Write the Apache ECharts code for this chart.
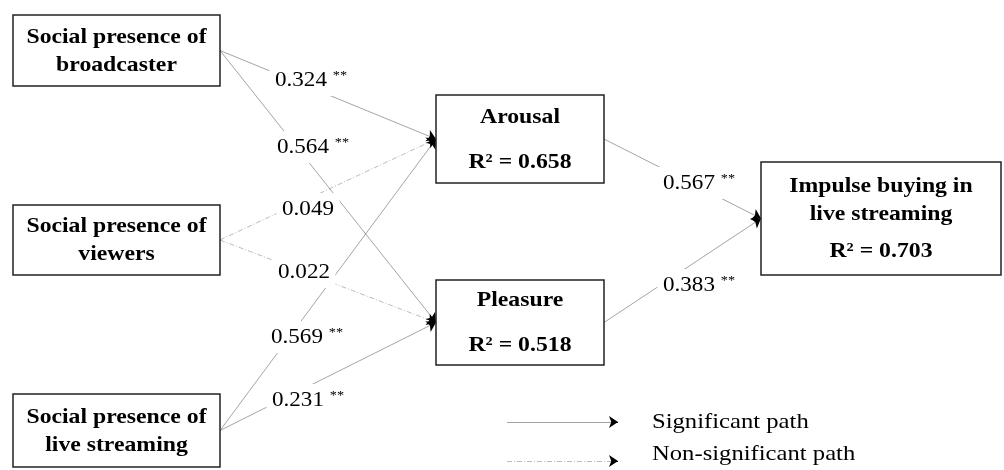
<!DOCTYPE html>
<html><head><meta charset="utf-8">
<script src="https://cdn.jsdelivr.net/npm/echarts@6/dist/echarts.min.js"></script>
<style>html,body{margin:0;padding:0;background:#fff}#c{width:1004px;height:470px}</style>
</head><body><div id="c"></div>
<script>
// ---- data ----
const nodeNames = [['Social presence of','broadcaster'],['Social presence of','viewers'],['Social presence of','live streaming'],['Arousal'],['Pleasure'],['Impulse buying in','live streaming']];
const nodeR2 = [null,null,null,'0.658','0.518','0.703'];
const nodeLeft = [13,13,13,436,436,761];
const nodeTop = [15,205,394,95,280,162];
const nodeRight = [220,220,220,604,604,1001];
const nodeBottom = [86,275,467,183,365,275];
const pathFrom = [0,0,1,1,2,2,3,4];
const pathTo = [3,4,3,4,3,4,5,5];
const pathCoef = [0.324,0.564,0.049,0.022,0.569,0.231,0.567,0.383];
const pathSig = [1,1,0,0,1,1,1,1];
const labelX = [311,313,308,304,307,308,699,699];
const labelY = [80,147,209,272,337,400,183,285];
const legendText = ['Significant path','Non-significant path'];

// ---- chart ----
const FONT = '"Liberation Serif","Times New Roman",serif';
const SXB = 1.13, SXR = 1.12;
const chart = echarts.init(document.getElementById('c'), null, {renderer:'canvas'});
const mid = i => (nodeTop[i] + nodeBottom[i]) / 2;
const dashPat = [5,2,1,2];
const legendY = [422, 461];
const legendTextY = [422, 454];

// path segments (edges + legend samples)
const segs = pathFrom.map((f, k) => ({
  a: [nodeRight[f], mid(f)], b: [nodeLeft[pathTo[k]], mid(pathTo[k])], sig: pathSig[k] === 1
}));
legendText.forEach((s, k) => segs.push({a: [507, legendY[k]], b: [618, legendY[k]], sig: k === 0}));

const lineData = segs.map(s => ({
  coords: [s.a, s.b],
  lineStyle: {type: s.sig ? 'solid' : dashPat, color: s.sig ? '#4a4a4a' : '#777', width: 1}
}));
// tiny terminal pieces carrying black arrowheads
const headData = segs.map(s => {
  const dx = s.b[0] - s.a[0], dy = s.b[1] - s.a[1];
  const L = Math.sqrt(dx * dx + dy * dy);
  return {coords: [[s.b[0] - dx / L * 2, s.b[1] - dy / L * 2], s.b]};
});

const option = {
  animation: false,
  backgroundColor: '#fff',
  grid: {left: 0, right: 0, top: 0, bottom: 0},
  xAxis: {type: 'value', min: 0, max: 1004, show: false},
  yAxis: {type: 'value', min: 0, max: 470, inverse: true, show: false},
  series: [
    {
      type: 'lines', coordinateSystem: 'cartesian2d', z: 2, silent: true,
      symbol: 'none', data: lineData
    },
    {
      type: 'lines', coordinateSystem: 'cartesian2d', z: 2, silent: true,
      symbol: ['none', 'arrow'], symbolSize: [6, 9],
      lineStyle: {color: '#000', width: 1, opacity: 1},
      data: headData
    },
    {
      // boxes
      type: 'custom', z: 4, silent: true,
      encode: {x: [0, 2], y: [1, 3]},
      data: nodeLeft.map((v, i) => [v, nodeTop[i], nodeRight[i], nodeBottom[i]]),
      renderItem: function (params, api) {
        const i = params.dataIndex;
        const p0 = api.coord([nodeLeft[i], nodeTop[i]]);
        const p1 = api.coord([nodeRight[i], nodeBottom[i]]);
        const cx = (p0[0] + p1[0]) / 2, cy = (p0[1] + p1[1]) / 2;
        const lines = nodeNames[i].slice();
        const ys = [];
        let y = 0;
        lines.forEach((l, k) => { if (k > 0) y += 28; ys.push(y); });
        if (nodeR2[i]) { y += lines.length === 1 ? 45 : 37; ys.push(y); lines.push('R\u00B2 = ' + nodeR2[i]); }
        const off = cy + 1 - y / 2;
        const children = [{
          type: 'rect',
          shape: {x: p0[0], y: p0[1], width: p1[0] - p0[0], height: p1[1] - p0[1]},
          style: {fill: '#fff', stroke: '#222', lineWidth: 1.5}
        }];
        lines.forEach((l, k) => {
          children.push({
            type: 'text', x: cx, y: off + ys[k], scaleX: SXB,
            style: {
              text: l, x: 0, y: 0,
              textAlign: 'center', textVerticalAlign: 'middle', align: 'center', verticalAlign: 'middle',
              font: 'bold 21px ' + FONT, fill: '#000'
            }
          });
        });
        return {type: 'group', children: children};
      }
    },
    {
      // path coefficients
      type: 'custom', z: 3, silent: true,
      data: labelX.map((x, k) => [x, labelY[k]]),
      renderItem: function (params, api) {
        const k = params.dataIndex;
        const p = api.coord([api.value(0), api.value(1)]);
        const txt = pathSig[k] === 1 ? '{v|' + pathCoef[k].toFixed(3) + ' }{s|**}' : '{v|' + pathCoef[k].toFixed(3) + '}';
        return {
          type: 'text', x: p[0], y: p[1], scaleX: 1.1,
          style: {
            text: txt, x: 0, y: 0,
            textAlign: 'center', textVerticalAlign: 'middle', align: 'center', verticalAlign: 'middle',
            backgroundColor: '#fff', padding: [5, 5],
            rich: {
              v: {fontSize: 21, fontFamily: FONT, fill: '#000', color: '#000', lineHeight: 22},
              s: {fontSize: 13, fontFamily: FONT, fill: '#000', color: '#000', lineHeight: 13, verticalAlign: 'top'}
            }
          }
        };
      }
    },
    {
      // legend texts
      type: 'custom', z: 3, silent: true,
      data: legendText.map((s, k) => [652, legendTextY[k]]),
      renderItem: function (params, api) {
        const k = params.dataIndex;
        const p = api.coord([api.value(0), api.value(1)]);
        return {
          type: 'text', x: p[0], y: p[1], scaleX: SXR,
          style: {
            text: legendText[k], x: 0, y: 0,
            textAlign: 'left', textVerticalAlign: 'middle', align: 'left', verticalAlign: 'middle',
            font: '22px ' + FONT, fill: '#000'
          }
        };
      }
    }
  ]
};
chart.setOption(option);
</script></body></html>
